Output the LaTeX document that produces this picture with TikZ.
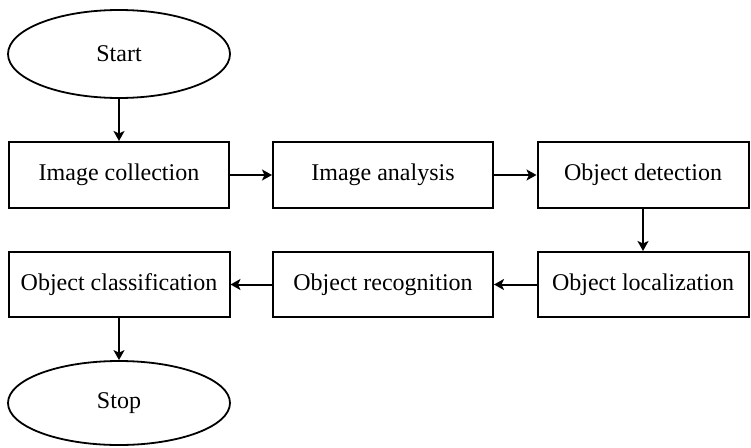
\documentclass[tikz,border=0pt]{standalone}
\usepackage{fontspec}
\setmainfont{Liberation Serif}
\usetikzlibrary{shapes.geometric,arrows.meta}
\begin{document}
\begin{tikzpicture}[x=1pt,y=-1pt,
  procbox/.style={draw,line width=2pt,minimum height=65pt,inner sep=0pt,font=\fontsize{24}{28}\selectfont},
  term/.style={draw,ellipse,line width=1.8pt,minimum width=222pt,inner sep=0pt,font=\fontsize{24}{28}\selectfont},
  conn/.style={line width=2pt,-{Stealth[length=10pt,width=11pt,inset=2.5pt]}}]
\useasboundingbox (0,0) rectangle (751,447);
\node[term,minimum height=88pt] (start) at (119,54) {Start};
\node[procbox,minimum width=220pt,minimum height=66pt] (collect) at (119,175) {Image collection};
\node[procbox,minimum width=220pt,minimum height=66pt] (analysis) at (383,175) {Image analysis};
\node[procbox,minimum width=211pt,minimum height=66pt] (detect) at (643,175) {Object detection};
\node[procbox,minimum width=211pt] (local) at (643,284.5) {Object localization};
\node[procbox,minimum width=220pt] (recog) at (383,284.5) {Object recognition};
\node[procbox,minimum width=221pt] (classif) at (119,284.5) {Object classification};
\node[term,minimum height=84pt] (stop) at (119,403) {Stop};
\draw[conn] (start) -- (collect);
\draw[conn] (collect) -- (analysis);
\draw[conn] (analysis) -- (detect);
\draw[conn] (detect) -- (local);
\draw[conn] (local) -- (recog);
\draw[conn] (recog) -- (classif);
\draw[conn] (classif) -- (stop);
\end{tikzpicture}
\end{document}
